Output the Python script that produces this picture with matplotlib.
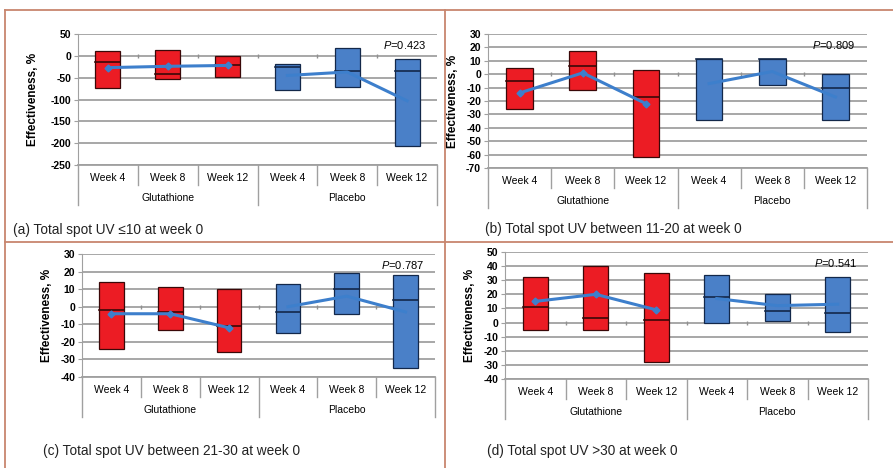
import matplotlib
matplotlib.use("Agg")
import matplotlib.pyplot as plt
from matplotlib.lines import Line2D
import numpy as np

plt.rcParams['font.family'] = ['Liberation Sans', 'DejaVu Sans']
plt.rcParams['mathtext.fontset'] = 'custom'
plt.rcParams['mathtext.it'] = 'Liberation Sans:italic'
plt.rcParams['mathtext.rm'] = 'Liberation Sans'
plt.rcParams['axes.unicode_minus'] = False

weeks = ["Week 4", "Week 8", "Week 12", "Week 4", "Week 8", "Week 12"]
groups = ["Glutathione", "Placebo"]

# per panel: box top (Q3), box bottom (Q1), median, mean
a_top = [10, 14, -1, -19, 18, -8]
a_bot = [-74, -53, -48, -78, -72, -206]
a_med = [-14, -42, -20, -25, -34, -34]
a_mean = [-27, -24, -22, -45, -37, -103]

b_top = [5, 17, 3, 11, 11, 0]
b_bot = [-26, -12, -62, -34, -8, -34]
b_med = [-5, 6, -17, 11, 11, -10]
b_mean = [-14, 1, -22, -7, 2, -17]

c_top = [14, 11, 10, 13, 19, 18]
c_bot = [-24, -13, -26, -15, -4, -35]
c_med = [-2, -3, -11, -3, 10, 4]
c_mean = [-4, -4, -12, 0, 6, -3]

d_top = [32, 40, 35, 34, 20, 32]
d_bot = [-5, -5, -28, 0, 1, -7]
d_med = [11, 3, 2, 18, 8, 7]
d_mean = [15, 20, 9, 17, 12, 13]

pvals = ["0.423", "0.809", "0.787", "0.541"]
captions = ["(a) Total spot UV \u226410 at week 0",
            "(b) Total spot UV between 11-20 at week 0",
            "(c) Total spot UV between 21-30 at week 0",
            "(d) Total spot UV >30 at week 0"]

W, H = 893, 468
fig = plt.figure(figsize=(W / 100, H / 100), dpi=100)

red = '#ec1c24'
red_edge = '#3a0808'
blue = '#4a80c8'
blue_edge = '#13284a'
line_col = '#3d7fcc'
grid_col = '#a0a0a0'


def panel(px, ylim, step, top, bot, med, mean, pval, ylab_x):
    x0, x1, y0, y1 = px
    hpx = y1 - y0
    ax = fig.add_axes([x0 / W, 1 - y1 / H, (x1 - x0) / W, hpx / H])
    x = np.arange(6)
    top = np.array(top)
    bot = np.array(bot)
    cols = [red] * 3 + [blue] * 3
    edges = [red_edge] * 3 + [blue_edge] * 3
    ax.set_xlim(-0.5, 5.5)
    ax.set_ylim(*ylim)
    ax.set_yticks(np.arange(ylim[0], ylim[1] + 1, step))
    ax.yaxis.grid(True, color=grid_col, lw=1.3)
    ax.set_axisbelow(True)
    ax.bar(x, top - bot, bottom=bot, width=0.42, color=cols,
           edgecolor=edges, linewidth=0.9, zorder=2)
    for i in range(6):
        ax.plot([i - 0.21, i + 0.21], [med[i], med[i]], color=edges[i],
                lw=1.2, zorder=3)
    ax.plot(x[:3], mean[:3], color=line_col, lw=2.2, marker='D',
            markersize=3.5, zorder=4)
    ax.plot(x[3:], mean[3:], color=line_col, lw=2.2, zorder=4)
    # small tick marks on the zero line
    ax.plot(np.arange(0.5, 5.5, 1.0), [0] * 5, ls='none', marker='|',
            markersize=3, color='#909090', zorder=1)
    for s in ['top', 'right']:
        ax.spines[s].set_visible(False)
    ax.spines['bottom'].set_color(grid_col)
    ax.spines['bottom'].set_linewidth(1.3)
    ax.spines['left'].set_color(grid_col)
    ax.set_xticks([])
    ax.tick_params(axis='y', length=3, color=grid_col, pad=2,
                   labelsize=7.5)
    for lab in ax.get_yticklabels():
        lab.set_fontweight('bold')
    tr = ax.get_xaxis_transform()
    for i, w in enumerate(weeks):
        ax.text(i, -13 / hpx, w, transform=tr, ha='center', va='center',
                fontsize=7.5)
    for g, gi in zip(groups, [1, 4]):
        ax.text(gi, -33 / hpx, g, transform=tr, ha='center', va='center',
                fontsize=7.5)
    for b in np.arange(-0.5, 6.0, 1.0):
        ln = 40 if b in (-0.5, 2.5, 5.5) else 20
        ax.add_line(Line2D([b, b], [0, -ln / hpx], transform=tr,
                           color=grid_col, lw=1.0, clip_on=False))
    ax.text(0.97, -11 / hpx + 1, "$\\it{P}$=" + pval, transform=ax.transAxes,
            ha='right', va='center', fontsize=8)
    fig.text(ylab_x / W, 1 - (y0 + y1) / 2 / H, "Effectiveness, %",
             rotation=90, ha='center', va='center', fontsize=8.5,
             fontweight='bold')
    return ax


panel((78, 437, 34, 165), (-250, 50), 50, a_top, a_bot, a_med, a_mean,
      pvals[0], 33)
panel((488, 867, 34, 168), (-70, 30), 10, b_top, b_bot, b_med, b_mean,
      pvals[1], 453)
panel((82, 435, 254, 377), (-40, 30), 10, c_top, c_bot, c_med, c_mean,
      pvals[2], 47)
panel((505, 868, 252, 379), (-40, 50), 10, d_top, d_bot, d_med, d_mean,
      pvals[3], 470)

cap_pos = [(13, 230), (485, 229), (43, 451), (487, 451)]
for (cx, cy), txt in zip(cap_pos, captions):
    fig.text(cx / W, 1 - cy / H, txt, ha='left', va='center', fontsize=9.8,
             color='#222222')

# panel frame lines
bc = '#c8866e'
for xs, ys in [((5, W), (10, 10)), ((5, 5), (10, H)), ((445, 445), (10, H)),
               ((5, W), (242, 242))]:
    fig.add_artist(Line2D([xs[0] / W, xs[1] / W], [1 - ys[0] / H, 1 - ys[1] / H],
                          transform=fig.transFigure, color=bc, lw=1.3))

fig.savefig("out.png", dpi=100)
